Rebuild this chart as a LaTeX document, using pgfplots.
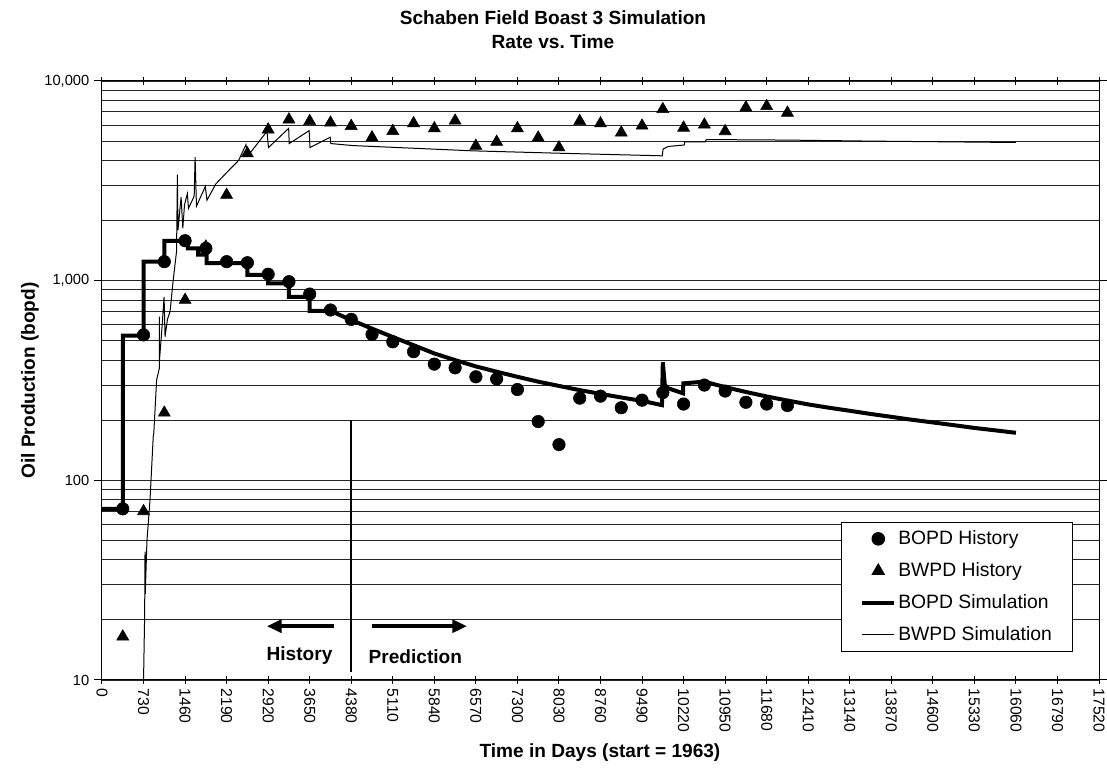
\documentclass[border=0pt]{standalone}
\usepackage{pgfplots}
\pgfplotsset{compat=1.18}
\usepackage{fontspec}
\setmainfont{Liberation Sans}
\usetikzlibrary{arrows.meta}

\begin{document}
\begin{tikzpicture}
\useasboundingbox (-76.5pt,-66pt) rectangle (753.75pt,510pt);
\begin{axis}[
    at={(0,0)}, anchor=south west,
    scale only axis,
    width=747.75pt, height=449.25pt,
    ymode=log,
    xmin=0, xmax=17520,
    ymin=10, ymax=10000,
    scaled x ticks=false,
    xtick={0,730,1460,2190,2920,3650,4380,5110,5840,6570,7300,8030,8760,9490,10220,10950,11680,12410,13140,13870,14600,15330,16060,16790,17520},
    xticklabel={\pgfmathprintnumber[fixed,precision=0,1000 sep={},assume math mode=true]{\tick}},
    xticklabel style={rotate=-90, anchor=west, font=\fontsize{11.8}{14}\selectfont},
    ytick={10,100,1000,10000},
    yticklabels={10,100,{1,000},{10,000}},
    yticklabel style={font=\fontsize{11}{13}\selectfont},
    xtick align=center, ytick align=outside,
    major tick length=6pt, minor tick length=0pt,
    tick style={black, line width=0.75pt},
    ymajorgrids, yminorgrids,
    major grid style={black!85, line width=0.7pt},
    minor grid style={black!85, line width=0.7pt},
    axis line style={black, line width=0.75pt},
    legend cell align=left,
    legend style={at={(0.974,0.0467)}, anchor=south east,
        draw=black, line width=0.75pt,
        font=\fontsize{14.5}{17}\selectfont,
        inner xsep=14pt, inner ysep=4pt, row sep=7pt,
        nodes={inner sep=1.5pt, text height=11pt, text depth=3pt}},
]

% BOPD History
\addplot[only marks, mark=*, mark size=4.7pt, black,
    legend image code/.code={\path (0pt,0pt) (24pt,0pt); \draw plot coordinates {(12pt,0pt)};}]
coordinates {
(365,72) (730,535) (1095,1245) (1460,1585) (1825,1452) (2190,1245)
(2555,1230) (2920,1077) (3285,988) (3650,857) (4015,713) (4380,640)
(4745,538) (5110,494) (5475,441) (5840,382) (6205,366) (6570,330)
(6935,322) (7300,285) (7665,197) (8030,151) (8395,258) (8760,264)
(9125,231) (9490,252) (9855,275) (10220,241) (10585,300) (10950,280)
(11315,246) (11680,241) (12045,237)
};
\addlegendentry{BOPD History}

% BWPD History
\addplot[only marks, mark=triangle*, mark size=5.2pt, black,
    legend image code/.code={\path (0pt,0pt) (24pt,0pt); \draw plot coordinates {(12pt,0pt)};}]
coordinates {
(365,16.5) (730,70) (1095,218) (1460,800) (1825,1480) (2190,2686)
(2555,4335) (2920,5710) (3285,6410) (3650,6290) (4015,6180) (4380,5947)
(4745,5215) (5110,5610) (5475,6136) (5840,5790) (6205,6322) (6570,4730)
(6935,4955) (7300,5790) (7665,5200) (8030,4645) (8395,6290) (8760,6125)
(9125,5510) (9490,5970) (9855,7220) (10220,5830) (10585,6040) (10950,5600)
(11315,7360) (11680,7480) (12045,6930)
};
\addlegendentry{BWPD History}

% BOPD Simulation
\addplot[black, line width=3pt, mark=none,
    legend image code/.code={\draw (0pt,0pt) -- (24pt,0pt);}]
coordinates {
(0,72) (365,72) (365,530) (730,530) (730,1245) (1095,1245) (1095,1580)
(1510,1580) (1510,1450) (1690,1450) (1690,1350) (1840,1350) (1840,1225)
(2555,1225) (2555,1068) (2920,1068) (2920,970) (3285,970) (3285,830)
(3650,830) (3650,706) (4015,706) (4380,635) (4745,575) (5110,522)
(5475,475) (5840,432) (6205,400) (6570,372) (6935,350) (7300,330)
(7665,312) (8030,297) (8395,283) (8760,271) (9125,260) (9490,250)
(9840,238) (9855,390) (9890,300) (9950,289) (10210,273) (10215,306)
(10585,312) (10950,293) (11315,277) (11680,263) (12045,251) (12410,240)
(12775,231) (13140,223) (13505,215) (13870,208) (14235,201) (14600,195)
(14965,189) (15330,183) (15695,178) (16060,173)
};
\addlegendentry{BOPD Simulation}

% BWPD Simulation
\addplot[black, line width=0.75pt, mark=none,
    legend image code/.code={\draw (0pt,0pt) -- (24pt,0pt);}]
coordinates {
(730,10) (748,20) (752,27) (756,44) (760,27) (790,50) (844,80) (900,165)
(910,172) (960,318) (1008,364) (1008,660) (1010,400) (1050,560) (1091,830)
(1108,524) (1150,640) (1196,700) (1250,1000) (1310,1400) (1325,3400)
(1335,1790) (1390,2620) (1420,1830) (1450,2400) (1500,2725) (1520,2300)
(1620,2650) (1636,4150) (1660,2360) (1815,2960) (1845,2530) (2000,3050)
(2200,3500) (2400,4000) (2530,4800) (2560,4300) (2600,4350) (2900,5600)
(2925,4640) (3280,5790) (3290,4860) (3640,5640) (3655,4640) (4010,5230)
(4020,4860) (4400,4750) (6500,4470) (8000,4350) (9845,4220) (9860,4560)
(9950,4700) (10230,4780) (10240,4960) (10600,4960) (10620,5090)
(12000,5060) (13500,5000) (16060,4920)
};
\addlegendentry{BWPD Simulation}

% history / prediction divider
\addplot[black, line width=1.5pt, mark=none, forget plot] coordinates {(4380,11) (4380,200)};

\draw[black, line width=3pt, -{Triangle[length=11pt,width=9.5pt]}] (axis cs:4069,18.6) -- (axis cs:2897,18.6);
\draw[black, line width=3pt, -{Triangle[length=11pt,width=9.5pt]}] (axis cs:4744,18.6) -- (axis cs:6415,18.6);
\node[font=\bfseries\fontsize{14.3}{17}\selectfont] at (axis cs:3471,13.3) {History};
\node[font=\bfseries\fontsize{14.3}{17}\selectfont] at (axis cs:5506,13.1) {Prediction};
\end{axis}

\node[font=\bfseries\fontsize{14.3}{17}\selectfont] at (338.25pt,496.5pt) {Schaben Field Boast 3 Simulation};
\node[font=\bfseries\fontsize{14.3}{17}\selectfont] at (338.25pt,478.5pt) {Rate vs.\ Time};
\node[font=\bfseries\fontsize{14.3}{17}\selectfont] at (373.5pt,-54.75pt) {Time in Days (start = 1963)};
\node[font=\bfseries\fontsize{14.3}{17}\selectfont, rotate=90] at (-54pt,224.6pt) {Oil Production (bopd)};
\end{tikzpicture}
\end{document}
